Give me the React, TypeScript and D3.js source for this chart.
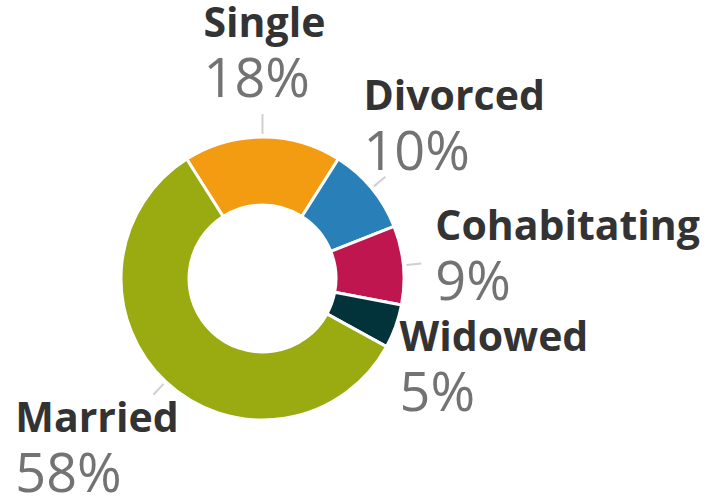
import React from "react";
import * as d3 from "d3";

const categories = ["Single", "Divorced", "Cohabitating", "Widowed", "Married"];
const values = [18, 10, 9, 5, 58];
const colors = ["#F39C12", "#2980B9", "#BF1650", "#02323A", "#9AAB12"];
// label layout relative to the leader end point: [dx, dy of name baseline]
const labelLayout: [number, number][] = [
  [-59, -77],
  [-22, -67],
  [14, -23.5],
  [-13, 18],
  [-138, 37],
];
const showLeader = [true, true, true, false, true];

const W = 711;
const H = 498;
const cx = 262.5;
const cy = 278.5;
const outerR = 141.5;
const innerR = 73.5;
const start = -0.09 * 2 * Math.PI;

export default function App() {
  const data = categories.map((c, i) => ({ name: c, value: values[i], color: colors[i] }));
  const pie = d3
    .pie<any>()
    .sort(null)
    .value((d: any) => d.value)
    .startAngle(start)
    .endAngle(start + 2 * Math.PI);
  const arcs = pie(data);
  const arc = d3.arc<any>().innerRadius(innerR).outerRadius(outerR);
  const pt = (a: number, r: number) => [Math.sin(a) * r, -Math.cos(a) * r];

  return (
    <svg
      width={W}
      height={H}
      style={{ position: "absolute", left: 0, top: 0 }}
      fontFamily="'Open Sans', sans-serif"
    >
      <rect width={W} height={H} fill="#fff" />
      <g transform={`translate(${cx},${cy})`}>
        {arcs.map((a, i) => (
          <path key={i} d={arc(a) as string} fill={a.data.color} stroke="#fff" strokeWidth={3} />
        ))}
        {arcs.map((a, i) => {
          const mid = (a.startAngle + a.endAngle) / 2;
          const p0 = pt(mid, outerR + 3);
          const p1 = pt(mid, outerR + (i === 0 ? 23 : 18));
          const [dx, dy] = labelLayout[i];
          const lx = p1[0] + dx;
          const ly = p1[1] + dy;
          return (
            <g key={"l" + i}>
              {showLeader[i] && (
                <line x1={p0[0]} y1={p0[1]} x2={p1[0]} y2={p1[1]} stroke="#d0d0d0" strokeWidth={2} />
              )}
              <text x={lx} y={ly} fontSize={41} fontWeight={700} fill="#333">
                {a.data.name}
              </text>
              <text x={lx} y={ly + 60} fontSize={54} fontWeight={400} fill="#737373">
                {a.data.value}%
              </text>
            </g>
          );
        })}
      </g>
    </svg>
  );
}
